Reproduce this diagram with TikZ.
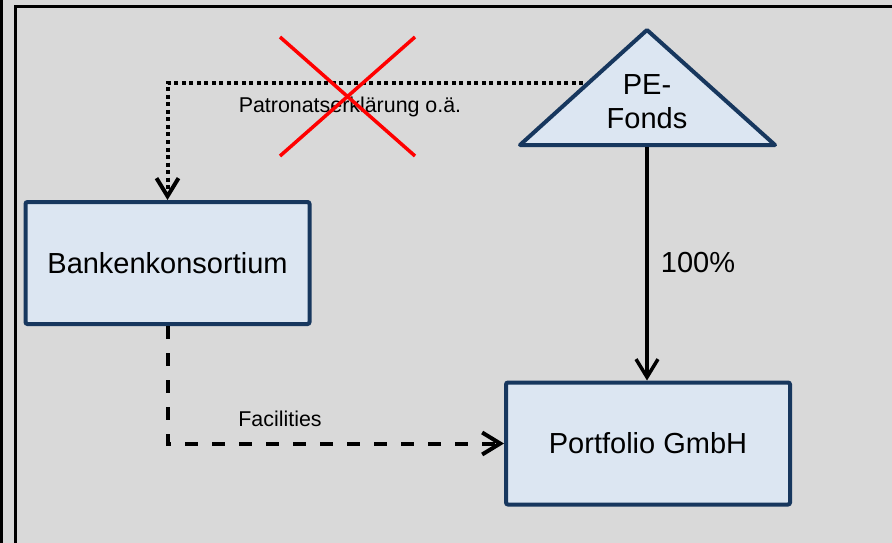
\documentclass[tikz,border=0pt]{standalone}
\usepackage{fontspec}
\setmainfont{Liberation Sans}
\usetikzlibrary{arrows.meta}
\definecolor{bg}{HTML}{D9D9D9}
\definecolor{boxfill}{HTML}{DCE6F2}
\definecolor{boxline}{HTML}{17375E}
\begin{document}
\begin{tikzpicture}[x=1pt,y=-1pt,
  entity/.style={draw=boxline, fill=boxfill, line width=4pt, rounded corners=2pt,
    minimum width=284pt, minimum height=122pt, inner sep=0pt,
    font=\fontsize{29}{34}\selectfont},
  biglabel/.style={font=\fontsize{29}{34}\selectfont, inner sep=0pt},
  smalllabel/.style={font=\fontsize{21.4}{25}\selectfont, inner sep=0pt},
  tip/.style={-{Straight Barb[length=18pt,width=22pt]}},
  ownership/.style={tip, line width=3.5pt},
  letter/.style={tip, line width=4pt, dash pattern=on 4pt off 3.5pt},
  credit/.style={tip, line width=4pt, dash pattern=on 13pt off 14pt},
  cross/.style={red, line width=3.5pt}]
  % canvas and frame
  \fill[bg] (0,0) rectangle (892,543);
  \useasboundingbox (0,0) rectangle (892,543);
  \fill[black] (0,0) rectangle (3,543);
  \draw[line width=3pt] (15.75,543) -- (15.75,6.5) -- (892,6.5);

  % fund triangle
  \draw[draw=boxline, fill=boxfill, line width=4pt, line join=round]
    (520,145) -- (647,30) -- (775,145) -- cycle;
  \node[biglabel, align=center] (pe) at (647,102) {PE-\\Fonds};
  \coordinate (peleft) at (583,83);
  \coordinate (pebase) at (647,147);

  % entities
  \node[entity] (bank) at (167.5,263) {Bankenkonsortium};
  \node[entity] (port) at (648,443.5) {Portfolio GmbH};

  % connectors
  \draw[ownership] (pebase) -- (pebase |- port.north);
  \draw[letter] (peleft) -| (bank.north);
  \draw[credit] (bank.south) |- (port.west);

  % labels
  \node[biglabel] (pct) at (698,263) {100\%};
  \node[smalllabel] (patr) at (350,107) {Patronatserklärung o.ä.};
  \node[smalllabel] (fac) at (280,419) {Facilities};

  % strike-through
  \draw[cross] (280,37) -- (415,156);
  \draw[cross] (415,37) -- (280,156);
\end{tikzpicture}
\end{document}
